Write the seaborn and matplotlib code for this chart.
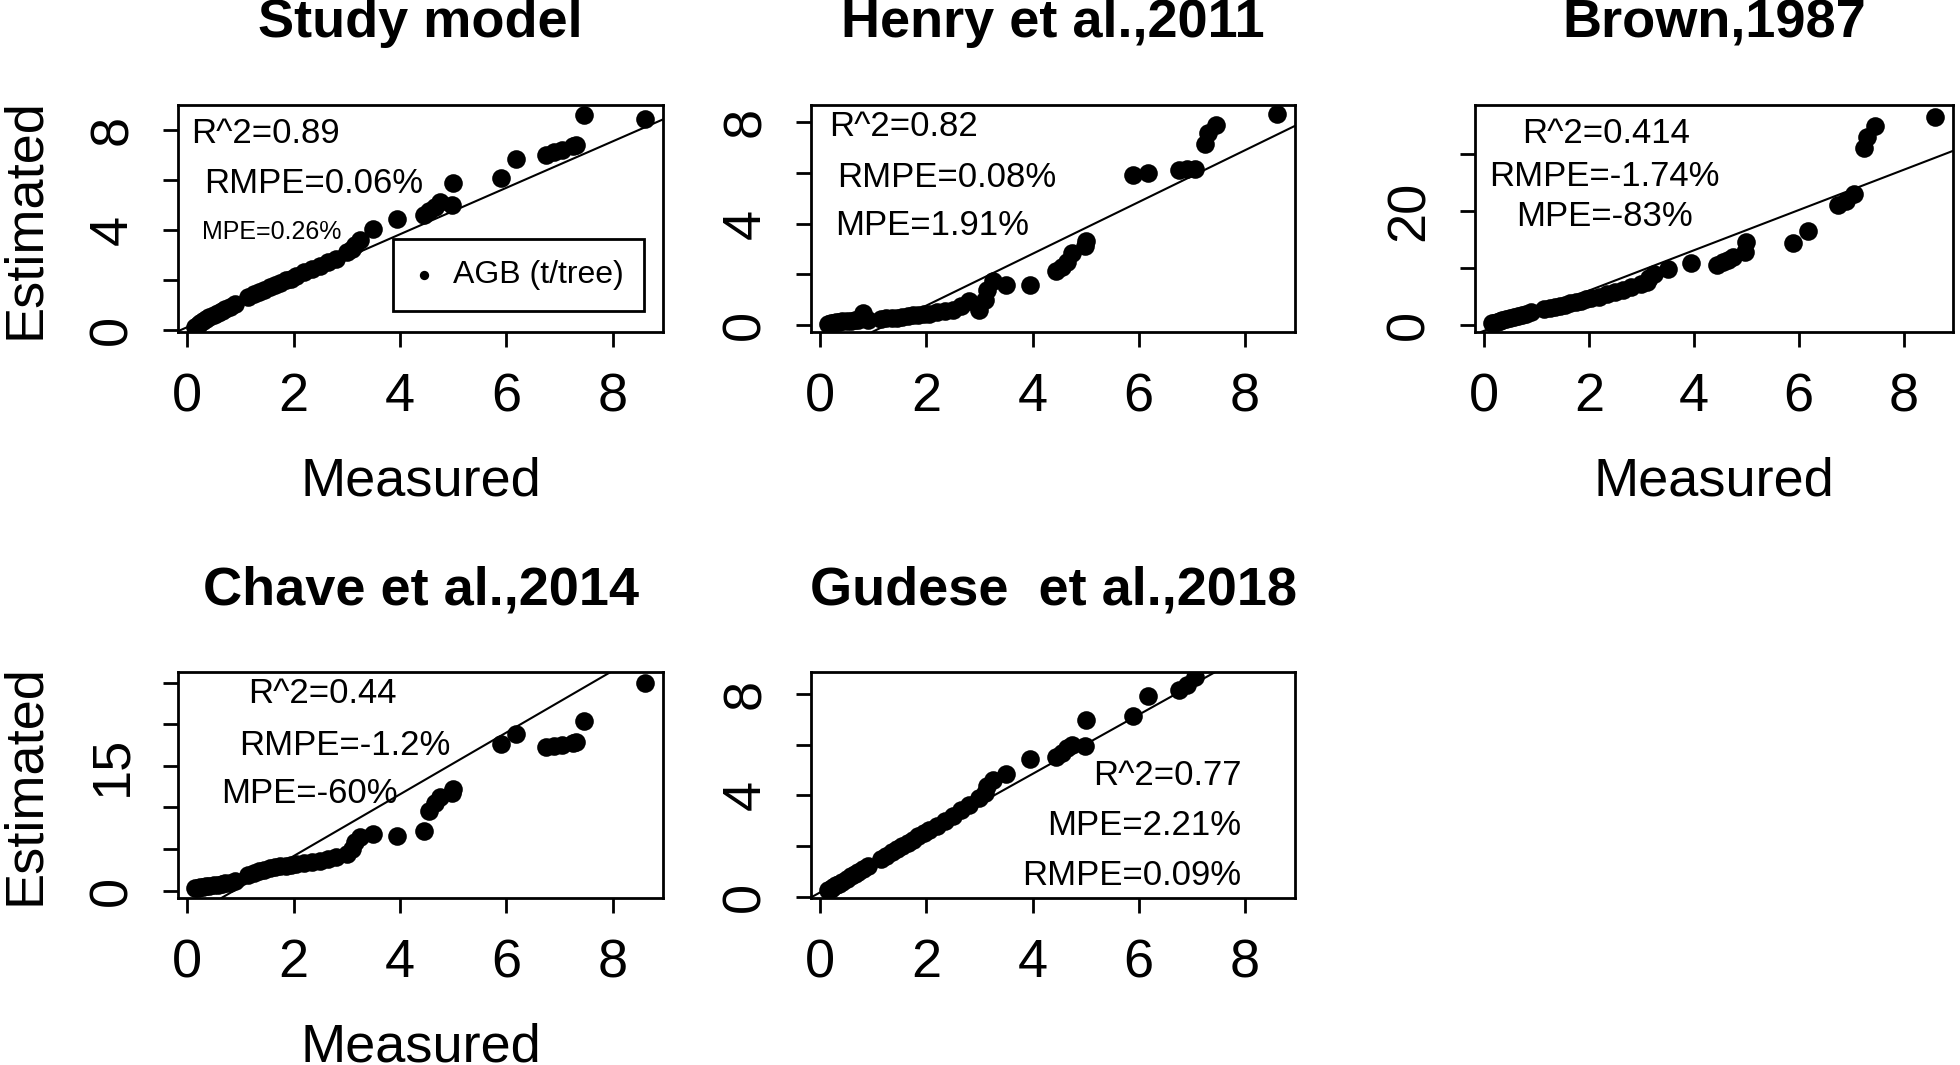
import numpy as np
import pandas as pd
import seaborn as sns
import matplotlib.pyplot as plt

# measured AGB per tree (t/tree), shared by all panels
measured = [0.15, 0.2, 0.25, 0.3, 0.35, 0.42, 0.5, 0.58, 0.65, 0.72, 0.8, 0.9,
            1.15, 1.25, 1.35, 1.45, 1.55, 1.65, 1.75, 1.85, 1.95, 2.05, 2.2, 2.35, 2.5, 2.65, 2.8,
            3.0, 3.1, 3.15, 3.25, 3.5, 3.95, 4.45, 4.55, 4.65, 4.75, 4.98, 5.0,
            5.9, 6.18, 6.75, 6.9, 7.05, 7.25, 7.3, 7.45, 8.6]

# estimated AGB from each model
study_est = [0.12, 0.2, 0.28, 0.35, 0.42, 0.5, 0.58, 0.68, 0.75, 0.82, 0.92, 1.02,
             1.3, 1.42, 1.5, 1.58, 1.7, 1.8, 1.88, 1.98, 2.05, 2.15, 2.3, 2.42, 2.55, 2.7, 2.85,
             3.1, 3.25, 3.4, 3.6, 4.05, 4.45, 4.6, 4.75, 4.9, 5.1, 5.0, 5.87,
             6.07, 6.82, 7.0, 7.1, 7.2, 7.35, 7.4, 8.6, 8.45]
henry_est = [0.05, 0.07, 0.1, 0.12, 0.12, 0.15, 0.15, 0.18, 0.2, 0.2, 0.47, 0.22,
             0.25, 0.28, 0.3, 0.3, 0.33, 0.35, 0.38, 0.4, 0.42, 0.45, 0.5, 0.55, 0.6, 0.75, 0.95,
             0.6, 1.0, 1.4, 1.75, 1.6, 1.6, 2.15, 2.3, 2.5, 2.85, 3.1, 3.3,
             5.93, 6.0, 6.1, 6.15, 6.15, 7.15, 7.55, 7.9, 8.3]
brown_est = [0.35, 0.45, 0.6, 0.75, 0.85, 1.0, 1.2, 1.4, 1.6, 1.75, 2.0, 2.3,
             2.8, 3.0, 3.2, 3.4, 3.6, 3.85, 4.05, 4.25, 4.5, 4.7, 5.0, 5.4, 5.8, 6.2, 6.7,
             7.2, 7.6, 8.3, 9.0, 9.8, 10.9, 10.5, 11.0, 11.4, 12.0, 12.8, 14.5,
             14.4, 16.5, 21.0, 21.8, 23.0, 31.0, 33.0, 35.0, 36.5]
chave_est = [0.3, 0.35, 0.4, 0.45, 0.5, 0.55, 0.65, 0.7, 0.8, 0.85, 0.95, 1.1,
             1.9, 2.1, 2.3, 2.5, 2.7, 2.8, 2.9, 3.0, 3.1, 3.2, 3.3, 3.45, 3.6, 3.8, 4.0,
             4.4, 5.0, 5.8, 6.4, 6.8, 6.6, 7.2, 9.6, 10.5, 11.2, 11.7, 12.2,
             17.6, 18.8, 17.3, 17.4, 17.5, 17.7, 17.9, 20.4, 25.0]
gudese_est = [0.25, 0.32, 0.38, 0.45, 0.5, 0.6, 0.7, 0.8, 0.9, 0.98, 1.08, 1.2,
              1.5, 1.62, 1.75, 1.88, 2.0, 2.12, 2.25, 2.38, 2.5, 2.62, 2.8, 3.0, 3.2, 3.4, 3.62,
              3.9, 4.1, 4.35, 4.6, 4.84, 5.43, 5.5, 5.65, 5.85, 6.0, 5.96, 6.95,
              7.14, 7.93, 8.15, 8.35, 8.65, np.nan, np.nan, np.nan, np.nan]

titles = ["Study model", "Henry et al.,2011", "Brown,1987",
          "Chave et al.,2014", "Gudese  et al.,2018"]

# fitted lines (intercept, slope)
fit_intercept = [0.10, -1.27, -1.0, -3.3, 0.17]
fit_slope = [0.93, 1.02, 3.53, 3.72, 1.168]

stats_text = [
    ["R^2=0.89", "RMPE=0.06%", "MPE=0.26%"],
    ["R^2=0.82", "RMPE=0.08%", "MPE=1.91%"],
    ["R^2=0.414", "RMPE=-1.74%", "MPE=-83%"],
    ["R^2=0.44", "RMPE=-1.2%", "MPE=-60%"],
    ["R^2=0.77", "MPE=2.21%", "RMPE=0.09%"],
]

x_ticks = [0, 2, 4, 6, 8]
y_ticks = [[0, 2, 4, 6, 8], [0, 2, 4, 6, 8], [0, 10, 20, 30],
           [0, 5, 10, 15, 20, 25], [0, 2, 4, 6, 8]]
y_ticklabels = [["0", "", "4", "", "8"], ["0", "", "4", "", "8"],
                ["0", "", "20", ""], ["0", "", "", "15", "", ""],
                ["0", "", "4", "", "8"]]


def main():
    sns.set_style("ticks")
    plt.rcParams["font.family"] = ["Liberation Sans", "DejaVu Sans"]
    plt.rcParams["text.color"] = "black"
    plt.rcParams["axes.labelcolor"] = "black"

    W, H = 1960, 1065
    fig = plt.figure(figsize=(W / 100, H / 100), dpi=100)

    # axes boxes in pixels: left, top, right, bottom
    boxes = [(178, 105, 663, 332), (811, 105, 1295, 332), (1475, 105, 1953, 332),
             (178, 672, 663, 898), (811, 672, 1295, 898)]
    ylims = [(-0.09, 8.99), (-0.27, 8.67), (-1.2, 38.6), (-0.9, 26.3), (-0.05, 8.86)]
    # annotation positions in axes fraction (x, y, ha, size)
    text_pos = [
        [(0.18, 0.874, "center", 25), (0.28, 0.654, "center", 25), (0.194, 0.44, "center", 18)],
        [(0.191, 0.907, "center", 25), (0.281, 0.681, "center", 25), (0.25, 0.467, "center", 25)],
        [(0.275, 0.874, "center", 25), (0.27, 0.687, "center", 25), (0.27, 0.511, "center", 25)],
        [(0.297, 0.906, "center", 25), (0.344, 0.674, "center", 25), (0.271, 0.464, "center", 25)],
        [(0.889, 0.541, "right", 25), (0.889, 0.32, "right", 25), (0.889, 0.099, "right", 25)],
    ]
    estimates = [study_est, henry_est, brown_est, chave_est, gudese_est]

    for i in range(5):
        l, t, r, b = boxes[i]
        ax = fig.add_axes([l / W, 1 - b / H, (r - l) / W, (b - t) / H])
        df = pd.DataFrame({"Measured": measured, "Estimated": estimates[i]})
        sns.scatterplot(data=df, x="Measured", y="Estimated", ax=ax, color="black",
                        s=180, linewidth=0, label="AGB (t/tree)" if i == 0 else None,
                        legend=i == 0, zorder=3)
        ax.axline((0, fit_intercept[i]), slope=fit_slope[i], color="black", lw=1.5, zorder=2)

        ax.set_xlim(-0.17, 8.94)
        ax.set_ylim(*ylims[i])
        ax.set_xticks(x_ticks)
        ax.set_xticklabels([str(v) for v in x_ticks])
        ax.set_yticks(y_ticks[i])
        ax.set_yticklabels(y_ticklabels[i], rotation=90, va="center")
        ax.tick_params(direction="out", length=11, width=2, labelsize=39, pad=18,
                       color="black", labelcolor="black")
        for sp in ax.spines.values():
            sp.set_visible(True)
            sp.set_linewidth(2)
            sp.set_color("black")

        ax.set_title(titles[i], fontsize=39, fontweight="bold", y=1 + 82 / (b - t),
                     va="center", pad=0, color="black")

        if i in (0, 2, 3):
            ax.set_xlabel("Measured", fontsize=39)
            ax.xaxis.set_label_coords(0.5, -150 / (b - t))
            ax.xaxis.label.set_va("center")
        else:
            ax.set_xlabel("")
        if i in (0, 3):
            ax.set_ylabel("Estimated", fontsize=39)
            ax.yaxis.set_label_coords(-153 / (r - l), 0.5)
            ax.yaxis.label.set_va("center")
        else:
            ax.set_ylabel("")

        for txt, (px, py, ha, fs) in zip(stats_text[i], text_pos[i]):
            ax.text(px, py, txt, transform=ax.transAxes, ha=ha, va="center", fontsize=fs)

        if i == 0:
            leg = ax.legend(loc="lower right", bbox_to_anchor=(0.961, 0.093), fontsize=23,
                            markerscale=0.5, handletextpad=0.6, borderpad=0.65,
                            fancybox=False, framealpha=1, edgecolor="black",
                            handlelength=0.6, borderaxespad=0)
            leg.get_frame().set_linewidth(2)

    plt.savefig("out.png", dpi=100)
    plt.close()


if __name__ == "__main__":
    main()
